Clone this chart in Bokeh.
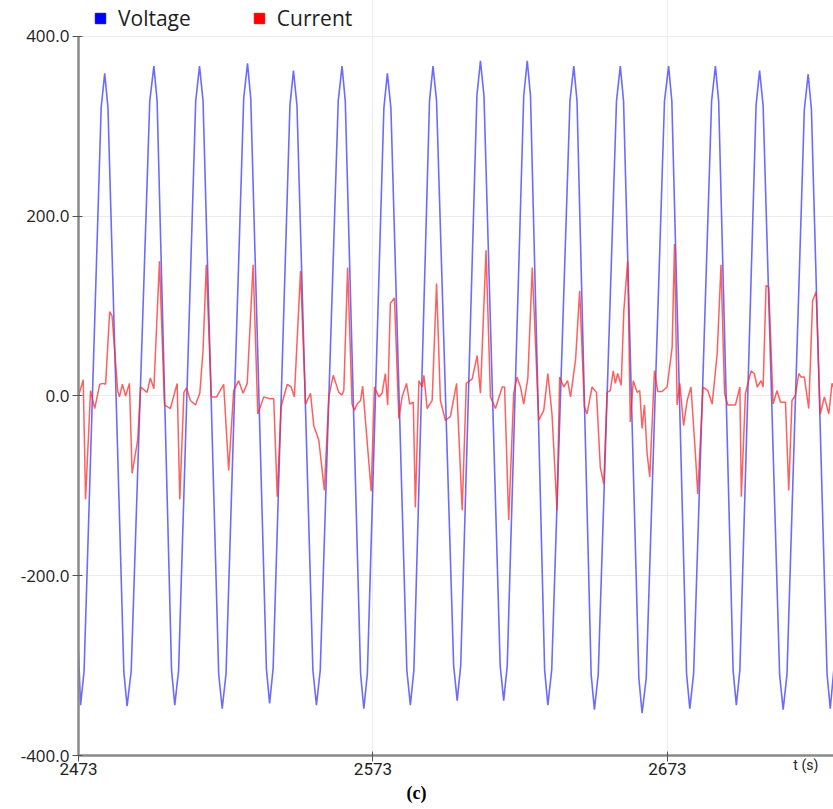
from bokeh.plotting import figure
from bokeh.models import (Range1d, FixedTicker, PrintfTickFormatter, Legend,
                          LegendItem, ColumnDataSource, Title, LinearAxis)
from bokeh.embed import file_html
from bokeh.resources import INLINE

# ---------------- data ----------------
series_names = ["Voltage", "Current"]
x_ticks = [2473, 2573, 2673]
y_ticks = [-400, -200, 0, 200, 400]
x_unit_label = "t (s)"
x_unit_label_at = 2720

t_voltage = [
    2473.0, 2473.7,
    2474.9, 2480.7, 2481.9, 2483.0, 2488.4, 2489.5,
    2490.9, 2497.2, 2498.6, 2499.7, 2504.6, 2505.7,
    2507.0, 2512.8, 2514.1, 2515.3, 2520.6, 2521.8,
    2523.1, 2529.1, 2530.4, 2531.5, 2536.8, 2537.9,
    2539.1, 2544.8, 2546.0, 2547.2, 2552.6, 2553.8,
    2555.1, 2561.2, 2562.5, 2563.6, 2568.8, 2569.9,
    2571.1, 2576.7, 2577.9, 2579.1, 2584.5, 2585.7,
    2586.9, 2592.2, 2593.4, 2594.6, 2600.4, 2601.6,
    2602.8, 2608.3, 2609.5, 2610.7, 2616.2, 2617.4,
    2618.6, 2624.2, 2625.4, 2626.5, 2631.3, 2632.4,
    2633.7, 2639.9, 2641.2, 2642.3, 2647.1, 2648.2,
    2649.5, 2655.7, 2657.0, 2658.1, 2663.3, 2664.4,
    2665.8, 2672.0, 2673.4, 2674.5, 2679.5, 2680.6,
    2681.9, 2688.0, 2689.3, 2690.4, 2695.3, 2696.4,
    2697.6, 2703.1, 2704.3, 2705.5, 2711.1, 2712.3,
    2713.6, 2719.5, 2720.8, 2721.9, 2727.2, 2728.3,
    2729.5,
]
voltage = [
    -285, -344,
    -306, 321, 359, 321, -307, -345,
    -306, 328, 367, 328, -305, -344,
    -305, 328, 367, 328, -309, -348,
    -309, 331, 370, 331, -303, -342,
    -303, 323, 362, 323, -305, -344,
    -305, 328, 367, 328, -309, -348,
    -309, 320, 359, 320, -305, -344,
    -305, 328, 367, 328, -300, -339,
    -300, 334, 373, 334, -300, -339,
    -300, 334, 373, 334, -305, -344,
    -305, 328, 367, 328, -310, -349,
    -310, 328, 367, 328, -314, -353,
    -314, 328, 367, 328, -309, -348,
    -309, 328, 367, 328, -305, -344,
    -305, 323, 362, 323, -310, -349,
    -310, 319, 358, 319, -309, -348,
    -305,
]

t_current = [
    2473.0, 2474.6, 2475.4, 2477.1, 2478.5, 2480.2, 2481.4, 2482.2, 2483.6, 2484.4, 2486.3, 2486.9, 2487.9, 2489.0, 2490.3,
    2491.2, 2493.1, 2494.1, 2496.3, 2497.4, 2498.6, 2500.5, 2502.2, 2504.2, 2506.5,
    2507.4, 2508.8, 2509.7, 2511.0, 2512.7, 2514.2, 2515.3, 2516.4, 2518.1, 2519.9, 2522.3,
    2524.0, 2525.7, 2527.4, 2528.9, 2530.3, 2532.3, 2533.9, 2535.9, 2538.0, 2539.3,
    2540.5, 2541.8, 2543.9, 2545.2, 2546.3, 2548.4, 2550.1, 2551.8, 2552.9, 2554.6,
    2556.5, 2558.0, 2559.5, 2561.4, 2562.5, 2563.1, 2564.4, 2565.9, 2566.7, 2567.6, 2568.8, 2569.5,
    2572.4, 2573.5, 2575.0, 2576.1, 2577.2, 2578.0, 2578.9, 2580.3, 2581.8, 2582.9, 2584.4, 2585.5, 2586.7,
    2587.4, 2588.6, 2589.7, 2590.3, 2591.4, 2593.1, 2594.6, 2595.9, 2597.6, 2599.3, 2601.4,
    2603.3, 2604.7, 2606.7, 2608.4, 2609.5, 2611.4, 2612.9, 2614.6, 2616.9, 2617.7,
    2619.1, 2620.8, 2621.9, 2623.1, 2624.2, 2625.6, 2627.1, 2629.3, 2631.0, 2632.4, 2633.8,
    2635.5, 2636.4, 2637.8, 2639.1, 2640.1, 2641.8, 2643.2, 2644.8, 2645.7, 2647.4, 2648.9, 2650.2,
    2651.4, 2652.5, 2653.6, 2654.6, 2655.3, 2656.1, 2657.3, 2658.2, 2659.5, 2660.4, 2661.4, 2662.7, 2663.6, 2664.4, 2665.2, 2666.1,
    2667.0, 2668.6, 2669.7, 2671.2, 2672.9, 2674.6, 2675.4, 2676.3, 2677.2, 2678.5, 2679.7, 2681.0, 2682.5,
    2683.3, 2685.1, 2686.7, 2688.2, 2689.9, 2691.2, 2692.4, 2693.5, 2696.1, 2697.6,
    2698.1, 2699.5, 2701.4, 2702.5, 2703.5, 2704.8, 2705.5, 2706.5, 2707.4, 2708.9, 2710.2, 2711.4, 2713.1,
    2714.2, 2715.3, 2716.5, 2717.6, 2718.4, 2719.5, 2721.0, 2722.3, 2723.5, 2724.9, 2726.3, 2727.8, 2728.9, 2729.4,
]
current = [
    0, 18, -115, 6, -14, 13, 14, 13, 94, 89, 6, -1, 13, 0, 14,
    -86, -49, 10, 4, 20, 8, 150, -10, -14, 14,
    -115, 4, 9, -5, -10, 3, 51, 146, -1, -1, 13,
    -83, 6, 17, 3, 14, 146, -20, -1, -3, -3,
    -112, -12, 13, 10, -1, 139, -9, 3, -33, -49,
    -105, -1, 23, 4, 1, 6, 143, -9, -16, -9, -5, 11,
    -106, 10, -1, 3, 25, -10, 103, 109, -25, -1, 14, -9, -7,
    -124, 17, 10, 23, -14, -5, 125, -5, -27, -23, 14,
    -127, 14, 19, 45, 3, 162, -1, -14, 10, 10,
    -138, 3, 21, 10, -9, 20, 143, -27, -16, 25, -20,
    -127, 21, 10, 17, -1, 40, 117, -12, -20, 10, 4, -79,
    -98, 4, 6, 28, 14, 25, 12, 95, 150, -29, 17, 4, 6, -36, -10, -64,
    -90, 28, 5, 5, 10, 54, 169, -10, 14, -33, -5, 10, -64,
    -109, 10, 6, -9, 47, 146, 3, -10, -10, 10,
    -112, 3, 28, 25, 10, 17, 10, 123, 121, -9, 6, -7, -7,
    -105, -5, 1, 25, 21, 21, -14, 106, 116, -20, -1, -20, 14, 10,
]

# ---------------- figure ----------------
# frame spans the full height above the x axis; the top 36 px hold the legend
p = figure(width=833, height=809, output_backend="svg", toolbar_location=None,
           x_range=Range1d(2473, 2729.4), y_range=Range1d(-400, 440),
           min_border_left=78, min_border_right=0, min_border_top=0,
           min_border_bottom=54)
p.outline_line_color = None
p.background_fill_color = "white"
p.border_fill_color = "white"

src_v = ColumnDataSource(dict(t=t_voltage, v=voltage))
src_c = ColumnDataSource(dict(t=t_current, c=current))

p.line("t", "v", source=src_v, line_color="#3a3aff", line_width=1.6, line_alpha=0.75)
p.line("t", "c", source=src_c, line_color="#ff2a2a", line_width=1.5, line_alpha=0.75)

# legend markers (kept out of view)
leg_v = p.scatter(x=[x_ticks[0] - 100], y=[0], marker="square", color="#0000ff", size=10)
leg_c = p.scatter(x=[x_ticks[0] - 100], y=[0], marker="square", color="#ff0000", size=10)

legend = Legend(items=[LegendItem(label=series_names[0], renderers=[leg_v]),
                       LegendItem(label=series_names[1], renderers=[leg_c])],
                orientation="horizontal", location="top_left",
                glyph_width=36, glyph_height=26, label_standoff=0, spacing=50,
                padding=5, margin=4, border_line_color=None,
                background_fill_alpha=0,
                label_text_font="Open Sans", label_text_font_size="21px",
                label_text_color="#1e1e1e")
p.add_layout(legend, "center")

# axes
for ax in (p.xaxis[0], p.yaxis[0]):
    ax.axis_line_color = "#8a8a8a"
    ax.axis_line_width = 2.5
    ax.major_tick_line_color = "#555555"
    ax.major_tick_in = 4
    ax.major_tick_out = 6
    ax.minor_tick_line_color = None
    ax.major_label_text_color = "#222222"

p.yaxis.bounds = (y_ticks[0], y_ticks[-1])
p.yaxis.ticker = FixedTicker(ticks=y_ticks)
p.yaxis.formatter = PrintfTickFormatter(format="%.1f")
p.yaxis.major_label_text_font = "Open Sans"
p.yaxis.major_label_text_font_size = "17px"
p.yaxis.major_label_standoff = 3

p.xaxis.ticker = FixedTicker(ticks=x_ticks)
p.xaxis.major_label_text_font = "'Liberation Sans Narrow', Roboto"
p.xaxis.major_label_text_font_size = "17px"
p.xaxis.major_label_standoff = 1

# unit label "t (s)" on the tick-label row: a tickless second axis pulled up
unit_axis = LinearAxis(ticker=FixedTicker(ticks=[x_unit_label_at]),
                       major_label_overrides={x_unit_label_at: x_unit_label},
                       axis_line_color=None, major_tick_line_color=None,
                       minor_tick_line_color=None, major_tick_out=0, major_tick_in=0,
                       major_label_standoff=-21,
                       major_label_text_font="'Liberation Sans Narrow', Roboto",
                       major_label_text_font_size="14px",
                       major_label_text_color="#222222")
p.add_layout(unit_axis, "below")

p.xgrid.grid_line_color = "#ececec"
p.ygrid.grid_line_color = "#ececec"

cap = Title(text="(c)", align="left", offset=328, text_font="Liberation Serif",
            text_font_size="18px", text_font_style="bold", text_color="#000000",
            standoff=6)
p.add_layout(cap, "below")

open("out.html", "w").write(file_html(p, INLINE))
